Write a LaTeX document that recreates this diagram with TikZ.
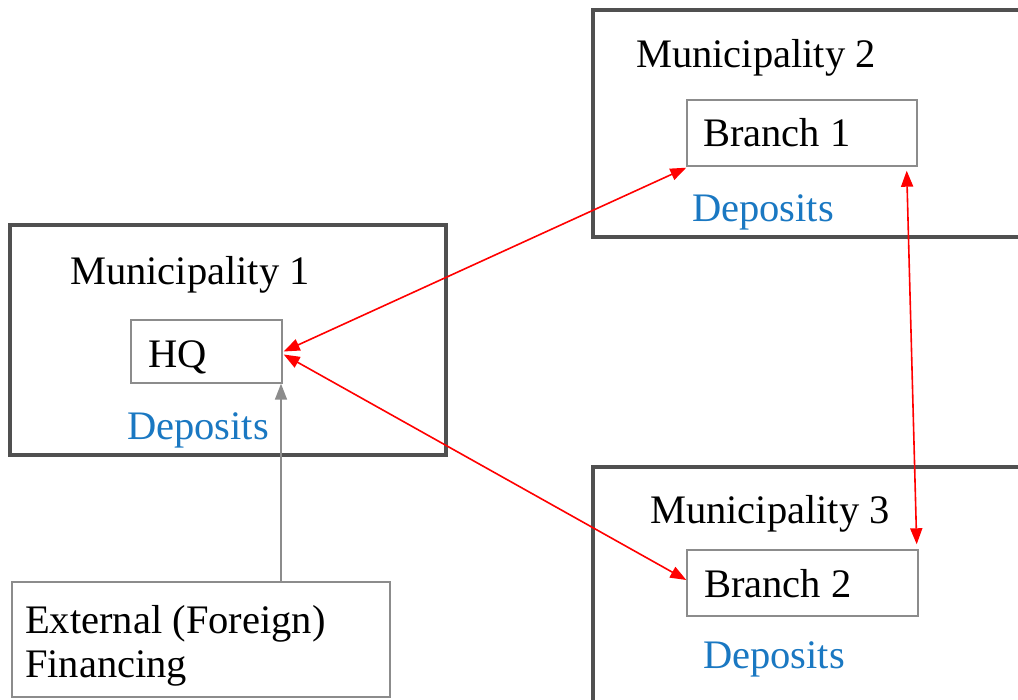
\documentclass[tikz,border=0pt]{standalone}
\usepackage{fontspec}
\setmainfont{Liberation Serif}
\usetikzlibrary{arrows.meta,calc}
\definecolor{outerc}{HTML}{505050}
\definecolor{innerc}{HTML}{8C8C8C}
\definecolor{depblue}{HTML}{1A78C2}
\begin{document}
\begin{tikzpicture}[x=1pt,y=-1pt,
  outerbox/.style={draw=outerc,line width=4pt,inner sep=0pt},
  innerbox/.style={draw=innerc,line width=1.4pt,inner sep=0pt,fill=white},
  lbl/.style={anchor=base west,inner sep=0pt,font=\fontsize{40.5}{46}\selectfont},
  deplbl/.style={lbl,text=depblue},
  redarrow/.style={draw=red,line width=1.6pt,{Triangle[length=16pt,width=12pt]}-{Triangle[length=16pt,width=12pt]}},
  grayarrow/.style={draw=innerc,line width=1.6pt,-{Triangle[length=16pt,width=12pt]}}]
\clip (0,0) rectangle (1018,700);
\fill[white] (0,0) rectangle (1018,700);
% outer boxes
\draw[outerbox] (10,225) rectangle (446,455);
\draw[outerbox] (593,10) rectangle (1030,237);
\draw[outerbox] (593,467) rectangle (1030,712);
% inner boxes
\node[innerbox,minimum width=151pt,minimum height=63pt] (hq) at (206.5,351.5) {};
\node[innerbox,minimum width=230pt,minimum height=66pt] (b1) at (802,133) {};
\node[innerbox,minimum width=231pt,minimum height=66pt] (b2) at (802.5,583) {};
\node[innerbox,minimum width=378pt,minimum height=115pt] (ext) at (201,639.5) {};
% labels
\node[lbl] (m1t) at (70,285) {Municipality 1};
\node[lbl] (hqt) at (148,368) {HQ};
\node[deplbl] (d1) at (127,440) {Deposits};
\node[lbl] (m2t) at (636,68) {Municipality 2};
\node[lbl] (b1t) at (703,147) {Branch 1};
\node[deplbl] (d2) at (692,222) {Deposits};
\node[lbl] (m3t) at (650,524) {Municipality 3};
\node[lbl] (b2t) at (704,597) {Branch 2};
\node[deplbl] (d3) at (703,668) {Deposits};
\node[lbl] (ext1) at (25,633) {External (Foreign)};
\node[lbl] (ext2) at (25,677) {Financing};
% connectors
\coordinate (gx) at (281,0);
\draw[grayarrow] (ext.north -| gx) -- (hq.south -| gx);
\coordinate (hqa) at ($(hq.east)+(1,0)$);
\coordinate (hqb) at ($(hq.east)+(1,3)$);
\coordinate (b1a) at ($(b1.south west)+(0,1)$);
\coordinate (b2a) at ($(b2.west)+(0,-3)$);
\coordinate (b1c) at ($(b1.south east)+(-11,4)$);
\coordinate (b2c) at ($(b2.north east)+(-2,-5)$);
\draw[redarrow] (hqa) -- (b1a);
\draw[redarrow] (hqb) -- (b2a);
\draw[redarrow] (b1c) -- (b2c);
\end{tikzpicture}
\end{document}
